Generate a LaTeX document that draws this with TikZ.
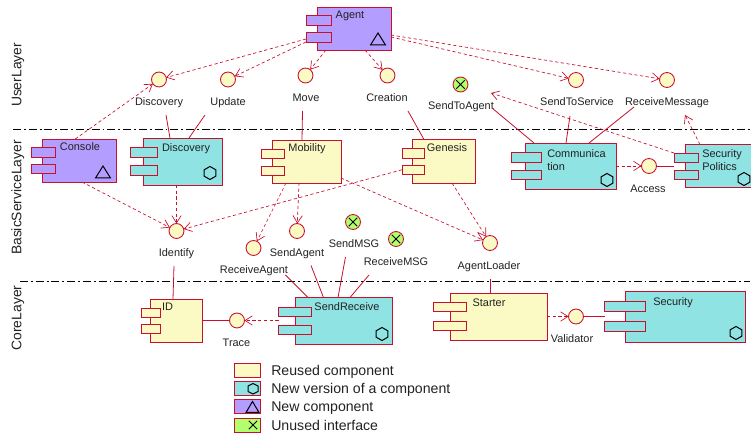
\documentclass[tikz,border=0pt]{standalone}
\usepackage{fontspec}
\setmainfont{Liberation Sans}
\usetikzlibrary{arrows.meta}
\definecolor{edge}{HTML}{C8102E}
\definecolor{cyellow}{HTML}{FBF9C4}
\definecolor{cteal}{HTML}{8FE3E3}
\definecolor{cpurple}{HTML}{B39DFF}
\definecolor{cgreen}{HTML}{B2FF6E}
\definecolor{ink}{HTML}{222222}
\tikzset{
  x=0.75pt,y=-0.75pt,
  boxshape/.style={draw=edge,line width=0.65pt,inner sep=0pt,outer sep=0pt,anchor=north west},
  iface/.style={circle,draw=edge,line width=0.65pt,fill=cyellow,minimum size=11.2pt,inner sep=0pt,outer sep=0pt},
  unused/.style={iface,fill=cgreen},
  lbl/.style={font=\fontsize{8.2}{10}\selectfont,text=ink,inner sep=0pt,text height=5.9pt,text depth=0pt},
  comptext/.style={font=\fontsize{8.2}{9.75}\selectfont,text=ink,inner sep=0pt,text height=5.9pt,text depth=0pt},
  compmulti/.style={font=\fontsize{8.2}{9.75}\selectfont,text=ink,inner sep=0pt,anchor=north west,align=left},
  layertext/.style={font=\fontsize{10.4}{12}\selectfont,text=ink,inner sep=0pt,rotate=90,text height=7.4pt,text depth=0pt},
  legendtext/.style={font=\fontsize{10.6}{12}\selectfont,text=ink,inner sep=0pt,anchor=west,text height=7.6pt,text depth=0pt},
  dep/.style={draw=edge,line width=0.5pt,dash pattern=on 2.4pt off 1.9pt,-{Straight Barb[length=5.5pt,width=7pt,line width=0.5pt]}},
  lnk/.style={draw=edge,line width=0.6pt},
  layerline/.style={draw=black,line width=0.7pt,dash pattern=on 6pt off 2.2pt on 1.4pt off 2.2pt},
  glyph/.style={draw=black,line width=0.75pt},
}
% name, colour, x, y, w, h, tab x, tab w, tab1 y, tab2 y, tab h
\newcommand{\compbox}[9]{%
  \node[boxshape,fill=#2,minimum width=#5*0.75pt,minimum height=#6*0.75pt] (#1) at (#3,#4) {};
  \def\tabx{#7}\def\tabw{#8}\def\taba{#9}\compboxrest{#1}{#2}}
\newcommand{\compboxrest}[4]{%
  \node[boxshape,fill=#2,minimum width=\tabw*0.75pt,minimum height=#4*0.75pt] (#1-a) at (\tabx,\taba) {};
  \node[boxshape,fill=#2,minimum width=\tabw*0.75pt,minimum height=#4*0.75pt] (#1-b) at (\tabx,#3) {};}
\newcommand{\hexicon}[2]{\draw[glyph] (#1,#2-6.5)--(#1+5.8,#2-3.2)--(#1+5.8,#2+3.2)--(#1,#2+6.5)--(#1-5.8,#2+3.2)--(#1-5.8,#2-3.2)--cycle;}
\newcommand{\triicon}[2]{\draw[glyph] (#1,#2-6.5)--(#1+7.5,#2+5.5)--(#1-7.5,#2+5.5)--cycle;}
\newcommand{\xicon}[2]{\draw[glyph] (#1-4.2,#2-4.2)--(#1+4.2,#2+4.2) (#1-4.2,#2+4.2)--(#1+4.2,#2-4.2);}
\begin{document}
\begin{tikzpicture}
\useasboundingbox (0,0) rectangle (751,438);
\fill[white] (0,0) rectangle (751,438);
% layers
\coordinate (ruleAa) at (13,129.5); \coordinate (ruleAb) at (750,129.5);
\coordinate (ruleBa) at (20,281); \coordinate (ruleBb) at (750,281);
\draw[layerline] (ruleAa) -- (ruleAb);
\draw[layerline] (ruleBa) -- (ruleBb);
\node[layertext] (layU) at (16.5,75) {UserLayer};
\node[layertext] (layB) at (16.5,197.5) {BasicServiceLayer};
\node[layertext] (layC) at (16.5,318) {CoreLayer};
% components
\compbox{agent}{cpurple}{317}{7}{74}{43}{306}{25}{15}{32}{10}
\compbox{console}{cpurple}{42.5}{139}{73.5}{43}{31}{24}{147.5}{164}{9.5}
\compbox{discovery}{cteal}{143.5}{138}{78.5}{47}{130.5}{27}{147}{165}{10}
\compbox{mobility}{cyellow}{272}{140}{69}{43}{261.5}{22.5}{149}{166}{9}
\compbox{genesis}{cyellow}{412}{139.5}{63}{43.5}{402}{22}{148.5}{165}{9.5}
\compbox{comm}{cteal}{525}{143}{91}{46}{511}{30}{152.5}{170}{9.5}
\compbox{secpol}{cteal}{685}{144.5}{68}{43}{674}{24}{153}{170}{9}
\compbox{id}{cyellow}{150.5}{299}{52}{43}{141.5}{18.5}{308}{324.5}{9}
\compbox{sendrec}{cteal}{295}{297.5}{97.5}{46.5}{278.5}{32.5}{307}{325.5}{9}
\compbox{starter}{cyellow}{450}{293}{97}{47}{433.5}{33}{302}{321}{9.5}
\compbox{security}{cteal}{625}{291}{120.5}{51}{604.5}{40.5}{301}{321}{10.5}
% component labels
\node[comptext] (tAgent) at (350,15) {Agent};
\node[comptext] (tConsole) at (80,147) {Console};
\node[comptext] (tDiscovery) at (186,148) {Discovery};
\node[comptext] (tMobility) at (307,148) {Mobility};
\node[comptext] (tGenesis) at (447,148) {Genesis};
\node[compmulti] (tComm) at (547,149) {Communica\\tion};
\node[compmulti] (tSecpol) at (702,149) {Security\\Politics};
\node[comptext] (tId) at (167.5,307) {ID};
\node[comptext] (tSendrec) at (347,307) {SendReceive};
\node[comptext] (tStarter) at (489,303) {Starter};
\node[comptext] (tSecurity) at (673,302) {Security};
% icons
\triicon{378}{39.5}
\triicon{103}{172.5}
\hexicon{210}{173}
\hexicon{607}{180}
\hexicon{744}{179}
\hexicon{382}{334}
\hexicon{736}{333}
% interfaces
\node[iface] (iDisc) at (159,79.5) {};
\node[iface] (iUpd) at (228,79.5) {};
\node[iface] (iMove) at (305.5,75.5) {};
\node[iface] (iCrea) at (387.5,75.5) {};
\node[unused] (iSta) at (460.5,84.5) {};
\node[iface] (iSts) at (576,80) {};
\node[iface] (iRec) at (667,80) {};
\node[iface] (iAcc) at (649,166) {};
\node[iface] (iIdent) at (176.5,231) {};
\node[iface] (iRa) at (253.5,248) {};
\node[iface] (iSa) at (297,231) {};
\node[unused] (iSm) at (353,222) {};
\node[unused] (iRm) at (396,239) {};
\node[iface] (iLoad) at (490,243) {};
\node[iface] (iTrace) at (237,320.5) {};
\node[iface] (iVal) at (576,316.5) {};
\xicon{460.5}{84.5}
\xicon{353}{222}
\xicon{396}{239}
% interface labels
\node[lbl] (lDisc) at (159,102) {Discovery};
\node[lbl] (lUpd) at (228,102) {Update};
\node[lbl] (lMove) at (306,98) {Move};
\node[lbl] (lCrea) at (387,98) {Creation};
\node[lbl] (lSta) at (461,106) {SendToAgent};
\node[lbl] (lSts) at (577,102) {SendToService};
\node[lbl] (lRec) at (667,102) {ReceiveMessage};
\node[lbl] (lAcc) at (648,189) {Access};
\node[lbl] (lIdent) at (176.5,253) {Identify};
\node[lbl] (lRa) at (254,270) {ReceiveAgent};
\node[lbl] (lSa) at (297,253) {SendAgent};
\node[lbl] (lSm) at (354,244) {SendMSG};
\node[lbl] (lRm) at (396,262) {ReceiveMSG};
\node[lbl] (lLoad) at (489,266) {AgentLoader};
\node[lbl] (lTrace) at (236.5,343) {Trace};
\node[lbl] (lVal) at (572,339) {Validator};
% free ends of the realisation lines
\coordinate (fDa) at (166,115);
\coordinate (fDb) at (205,115);
\coordinate (fMo) at (302.5,111);
\coordinate (fCr) at (408,111);
\coordinate (fSa) at (492,108);
\coordinate (fSs) at (570,116);
\coordinate (fRe) at (634,107);
\coordinate (fId) at (174,266);
\coordinate (fRa) at (285.5,275);
\coordinate (fSg) at (311,265.5);
\coordinate (fSm) at (345.5,257);
\coordinate (fRm) at (369,275);
\coordinate (fLo) at (490,279);
\coordinate (fStaTip) at (491,93);
\coordinate (fRecTip) at (685,115);
\draw[lnk] (fDa) -- (170,0 |- discovery.north);
\draw[lnk] (fDb) -- (189,0 |- discovery.north);
\draw[lnk] (fMo) -- (302,0 |- mobility.north);
\draw[lnk] (fCr) -- (424,0 |- genesis.north);
\draw[lnk] (fSa) -- (534,0 |- comm.north);
\draw[lnk] (fSs) -- (566,0 |- comm.north);
\draw[lnk] (fRe) -- (589,0 |- comm.north);
\draw[lnk] (fId) -- (173,0 |- id.north);
\draw[lnk] (fRa) -- (308,0 |- sendrec.north);
\draw[lnk] (fSg) -- (323.5,0 |- sendrec.north);
\draw[lnk] (fSm) -- (338,0 |- sendrec.north);
\draw[lnk] (fRm) -- (350,0 |- sendrec.north);
\draw[lnk] (fLo) -- (490,0 |- starter.north);
\draw[lnk] (iAcc) -- (iAcc -| secpol-a.west);
\draw[lnk] (iTrace -| id.east) -- (iTrace);
\draw[lnk] (iVal) -- (iVal -| security-a.west);
% dependencies
\draw[dep] (agent-b.west) ++(0,2) -- (iDisc);
\draw[dep] (console.north) ++(-4,0) -- (iDisc);
\draw[dep] (agent-b.south west) -- (iUpd);
\draw[dep] (326,0 |- agent.south) -- (iMove);
\draw[dep] (365,0 |- agent.south) -- (iCrea);
\draw[dep] (agent.east |- 0,37) -- (iSts);
\draw[dep] (agent.east |- 0,35) -- (iRec);
\draw[dep] (secpol-a.north west) -- (fStaTip);
\draw[dep] (700,0 |- secpol.north) -- (fRecTip);
\draw[dep] (comm.east |- iAcc) -- (iAcc);
\draw[dep] (82,0 |- console.south) -- (iIdent);
\draw[dep] (176.5,0 |- discovery.south) -- (iIdent);
\draw[dep] (genesis-b.west) -- (iIdent);
\draw[dep] (286,0 |- mobility.south) -- (iRa);
\draw[dep] (299,0 |- mobility.south) -- (iSa);
\draw[dep] (mobility.east |- 0,178) -- (iLoad);
\draw[dep] (452,0 |- genesis.south) -- (iLoad);
\draw[dep] (sendrec-a.west |- iTrace) -- (iTrace);
\draw[dep] (starter.east |- iVal) -- (iVal);
% legend
\node[boxshape,fill=cyellow,minimum width=26*0.75pt,minimum height=13.5*0.75pt] (legA) at (234,363.5) {};
\node[boxshape,fill=cteal,minimum width=26*0.75pt,minimum height=13.5*0.75pt] (legB) at (234,381.5) {};
\node[boxshape,fill=cpurple,minimum width=26*0.75pt,minimum height=13.5*0.75pt] (legC) at (234,399.5) {};
\node[boxshape,fill=cgreen,minimum width=26*0.75pt,minimum height=13.5*0.75pt] (legD) at (234,418.5) {};
\draw[glyph] (253,383.5)--(258,386)--(258,391.5)--(253,394)--(248,391.5)--(248,386)--cycle;
\draw[glyph] (252.5,401.5)--(259,412.5)--(246,412.5)--cycle;
\xicon{253}{425}
\node[legendtext] (ltA) at (271,370) {Reused component};
\node[legendtext] (ltB) at (271,388) {New version of a component};
\node[legendtext] (ltC) at (271,406) {New component};
\node[legendtext] (ltD) at (271,425) {Unused interface};
\end{tikzpicture}
\end{document}
